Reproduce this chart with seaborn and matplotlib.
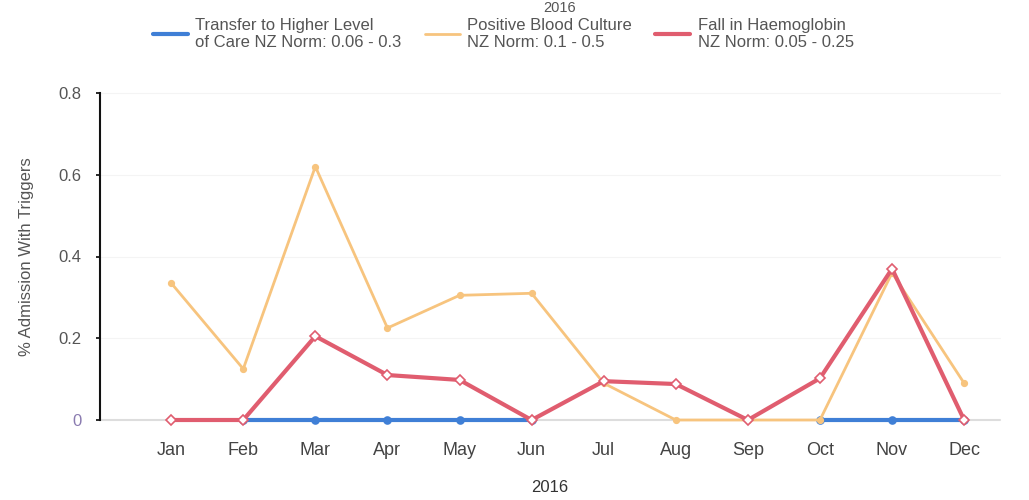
import matplotlib
matplotlib.use("Agg")
import matplotlib.pyplot as plt
import seaborn as sns
import numpy as np
import pandas as pd

months = ["Jan", "Feb", "Mar", "Apr", "May", "Jun", "Jul", "Aug", "Sep", "Oct", "Nov", "Dec"]
# Months without a reported value are left as NaN (the line breaks there)
transfer = [np.nan, 0, 0, 0, 0, 0, np.nan, np.nan, np.nan, 0, 0, 0]
blood_culture = [0.335, 0.125, 0.62, 0.225, 0.305, 0.31, 0.09, 0, 0, 0, 0.36, 0.09]
haemoglobin = [0, 0, 0.205, 0.11, 0.098, 0, 0.095, 0.088, 0, 0.102, 0.37, 0]

series_names = [
    "Transfer to Higher Level\nof Care NZ Norm: 0.06 - 0.3",
    "Positive Blood Culture\nNZ Norm: 0.1 - 0.5",
    "Fall in Haemoglobin\nNZ Norm: 0.05 - 0.25",
]
colors = ["#3f7fd6", "#f7c47e", "#e05d6f"]

df = pd.DataFrame({
    "month": months * 3,
    "value": transfer + blood_culture + haemoglobin,
    "series": [series_names[0]] * 12 + [series_names[1]] * 12 + [series_names[2]] * 12,
})
df["x"] = list(range(12)) * 3
# consecutive non-missing runs get their own segment id so gaps stay open
df["segment"] = df.groupby("series")["value"].transform(lambda s: s.isna().cumsum())

sns.set_theme(style="white")
plt.rcParams["font.family"] = ["Liberation Sans", "DejaVu Sans"]

fig = plt.figure(figsize=(10.29, 5.0), dpi=100)
ax = fig.add_axes([0.097, 0.16, 0.875, 0.654])

ax.axhline(0, color="#dddddd", lw=1.5, zorder=0)
for v in [0.2, 0.4, 0.6, 0.8]:
    ax.axhline(v, color="#f4f4f4", lw=0.8, zorder=0)

styles = {
    series_names[0]: dict(lw=3.0, marker="o", ms=5, mfc=colors[0], mec=colors[0], z=2),
    series_names[1]: dict(lw=2.0, marker="o", ms=4, mfc=colors[1], mec=colors[1], z=3),
    series_names[2]: dict(lw=3.0, marker="D", ms=5, mfc="white", mec=colors[2], z=4),
}
for name, color in zip(series_names, colors):
    st = styles[name]
    sub = df[(df["series"] == name) & df["value"].notna()]
    for i, (_, seg) in enumerate(sub.groupby("segment")):
        sns.lineplot(data=seg, x="x", y="value", ax=ax, color=color, lw=st["lw"],
                     marker=st["marker"], markersize=st["ms"], markerfacecolor=st["mfc"],
                     markeredgecolor=st["mec"], markeredgewidth=1.2,
                     label=name if i == 0 else None, zorder=st["z"])
for line in ax.get_lines():
    line.set_clip_on(False)

ax.set_xlim(-0.99, 11.5)
ax.set_ylim(0, 0.8)
ax.set_xticks(range(12))
ax.set_xticklabels(months, fontsize=13, color="#444444")
ax.set_yticks([0, 0.2, 0.4, 0.6, 0.8])
ax.set_yticklabels(["0", "0.2", "0.4", "0.6", "0.8"], fontsize=12, color="#555555")
ax.get_yticklabels()[0].set_color("#8a7bb0")
ax.tick_params(axis="x", length=0, pad=16)
ax.tick_params(axis="y", length=3, left=True, color="#111111", pad=10)

for side in ["top", "right", "bottom"]:
    ax.spines[side].set_visible(False)
ax.spines["left"].set_color("#111111")
ax.spines["left"].set_linewidth(1.5)

ax.set_xlabel("2016", fontsize=12, color="#333333", labelpad=15)
ax.set_ylabel("% Admission With Triggers", fontsize=12, color="#555555", labelpad=18)

fig.text(0.544, 0.999, "2016", ha="center", va="top", fontsize=10.5, color="#555555")

leg = ax.legend(loc="center", bbox_to_anchor=(0.448, 1.180), ncol=3, frameon=False,
                fontsize=12, handlelength=2.1, columnspacing=1.4, handletextpad=0.45,
                labelcolor="#555555")
for line in leg.get_lines():
    line.set_marker("")

fig.savefig("out.png", dpi=100)
